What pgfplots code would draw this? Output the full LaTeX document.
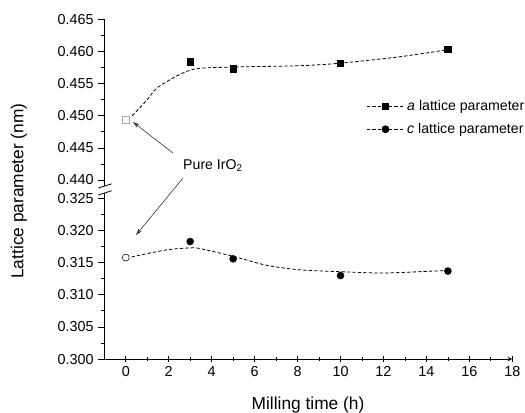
\documentclass[border=0pt]{standalone}
\usepackage{fontspec}
\setmainfont{Liberation Sans}
\usepackage{pgfplots}
\pgfplotsset{compat=1.18}
\usetikzlibrary{arrows.meta}
\begin{document}
\begin{tikzpicture}[x=1pt,y=1pt]
\useasboundingbox (-78.2pt,-39.75pt) rectangle (315.5pt,269.25pt);
\pgfplotsset{
 common/.style={
  scale only axis, width=306pt, height=120.4pt,
  xmin=-1, xmax=18,
  axis y line=left, axis line style={-, line width=0.6pt},
  tick align=outside, tick style={black, line width=0.6pt},
  major tick length=4.5pt, minor tick length=2.5pt,
  minor y tick num=1,
  scaled y ticks=false,
  y tick label style={/pgf/number format/fixed, /pgf/number format/fixed zerofill, /pgf/number format/precision=3},
  /pgf/number format/assume math mode=true,
  tick label style={font=\fontsize{10.8}{12}\selectfont},
  clip=false,
 },
 dashcurve/.style={black, smooth, line width=0.6pt, dash pattern=on 2.5pt off 1.6pt, forget plot},
}
\begin{axis}[common, at={(0pt,134.25pt)}, anchor=south west, axis x line=none,
  ymin=0.440, ymax=0.465, ytick={0.440,0.445,0.450,0.455,0.460,0.465},
  legend image code/.code={\draw[mark repeat=2,mark phase=2,#1] plot coordinates {(0pt,0pt)(14pt,0pt)(28pt,0pt)};},
  legend style={draw=none, fill=none, at={(0.632,0.532)}, anchor=north west,
    font=\fontsize{10.6}{12}\selectfont, row sep=4pt,
    /tikz/every even column/.append style={column sep=4pt}},
  legend cell align=left]
\addplot[dashcurve] coordinates {(0.3,0.4500)(1.0,0.4525)(1.44,0.4543)(2.37,0.4562)(3,0.4571)(3.46,0.4574)(5,0.4576)(8.1,0.4578)(10,0.4582)(12.77,0.4592)(15,0.4603)};
\addplot[only marks, mark=square*, mark size=2.4pt, black, forget plot] coordinates {(3,0.4584)(5,0.4573)(10,0.4582)(15,0.4604)};
\addplot[only marks, mark=square*, mark size=2.4pt, draw=black!35, fill=white, forget plot] coordinates {(0,0.4494)};
\addlegendimage{black, line width=0.6pt, dash pattern=on 2.5pt off 1.6pt, mark=square*, mark options={solid}, mark size=2.4pt}
\addlegendentry{\textit{a} lattice parameter}
\addlegendimage{black, line width=0.6pt, dash pattern=on 2.5pt off 1.6pt, mark=*, mark options={solid}, mark size=2.6pt}
\addlegendentry{\textit{c} lattice parameter}
\end{axis}
\begin{axis}[common, at={(0pt,0pt)}, anchor=south west, axis x line=bottom,
  ymin=0.300, ymax=0.325, ytick={0.300,0.305,0.310,0.315,0.320,0.325},
  xtick={0,2,4,6,8,10,12,14,16,18}, minor x tick num=1]
\addplot[dashcurve] coordinates {(0.27,0.3159)(1.9,0.3170)(3,0.3173)(3.46,0.3172)(5,0.3160)(6.56,0.3146)(8.1,0.3139)(10,0.3136)(12,0.3134)(14.3,0.3137)(15,0.3138)};
\addplot[only marks, mark=*, mark size=2.6pt, black] coordinates {(3,0.3183)(5,0.3156)(10,0.3130)(15,0.3137)};
\addplot[only marks, mark=*, mark size=2.6pt, draw=black, fill=white] coordinates {(0,0.3158)};
\end{axis}
% axis break
\draw[line width=0.6pt] (0pt,134.25pt) -- (0pt,129.75pt);
\draw[line width=0.6pt] (0pt,120.4pt) -- (0pt,124.5pt);
\draw[line width=0.6pt] (-4.5pt,128.2pt) -- (5.5pt,131.4pt);
\draw[line width=0.6pt] (-4.5pt,123.0pt) -- (5.5pt,126.2pt);
% labels
\node[rotate=90, font=\fontsize{13}{15}\selectfont] at (-64pt,126pt) {Lattice parameter (nm)};
\node[anchor=base, font=\fontsize{13}{15}\selectfont] at (152.8pt,-37.7pt) {Milling time (h)};
\node[anchor=base west, font=\fontsize{10.6}{12}\selectfont, inner sep=0pt] at (59pt,142pt) {Pure IrO\textsubscript{2}};
\draw[-{Stealth[length=5pt,width=3pt]}, line width=0.45pt, black!80] (51.5pt,154.5pt) -- (21.5pt,177.75pt);
\draw[-{Stealth[length=5pt,width=3pt]}, line width=0.45pt, black!80] (59pt,135.75pt) -- (23.8pt,93pt);
\end{tikzpicture}
\end{document}
